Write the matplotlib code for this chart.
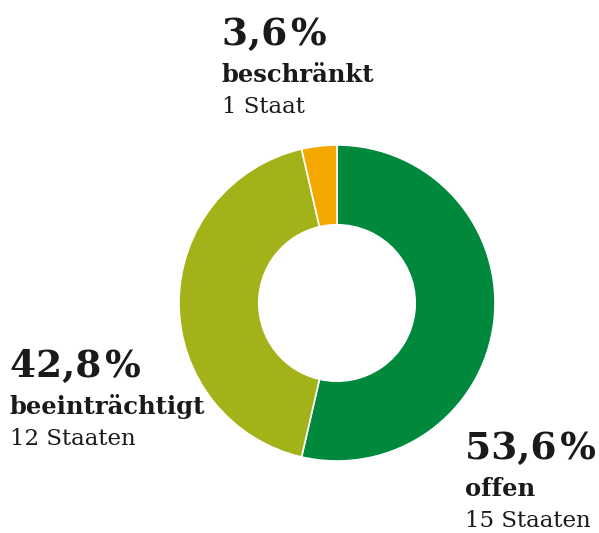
import matplotlib.pyplot as plt

labels = ['offen', 'beeinträchtigt', 'beschränkt']
shares = [53.6, 42.8, 3.6]
states = ['15 Staaten', '12 Staaten', '1 Staat']
colors = ['#00893d', '#a3b219', '#f5a800']

W, H = 599, 533
fig = plt.figure(figsize=(W / 100, H / 100), dpi=100)
plt.rcParams['font.family'] = ['DejaVu Serif']

# donut: centre (337, 303) px, outer radius 158 px
cx, cy, r = 337, 303, 158
ax = fig.add_axes([(cx - r) / W, (H - cy - r) / H, 2 * r / W, 2 * r / H])
ax.pie(shares, colors=colors, startangle=90, counterclock=False, radius=1,
       wedgeprops=dict(width=0.505, edgecolor='white', linewidth=1.2))
ax.set_xlim(-1, 1)
ax.set_ylim(-1, 1)
ax.set_aspect('equal')
ax.axis('off')

ink = '#1a1a1a'

def label(x, y0, pct, name, n):
    # y0 = baseline of percentage in px from top
    fig.text(x / W, 1 - y0 / H, f'{pct:.1f}'.replace('.', ',') + '\u200a%',
             fontsize=27, fontweight='bold', color=ink, va='baseline')
    fig.text(x / W, 1 - (y0 + 37) / H, name, fontsize=17.5, fontweight='bold',
             color=ink, va='baseline')
    fig.text(x / W, 1 - (y0 + 68) / H, n, fontsize=16.5, color=ink, va='baseline')

label(465, 459, shares[0], labels[0], states[0])
label(10, 377, shares[1], labels[1], states[1])
label(222, 45, shares[2], labels[2], states[2])

fig.savefig('out.png', dpi=100)
